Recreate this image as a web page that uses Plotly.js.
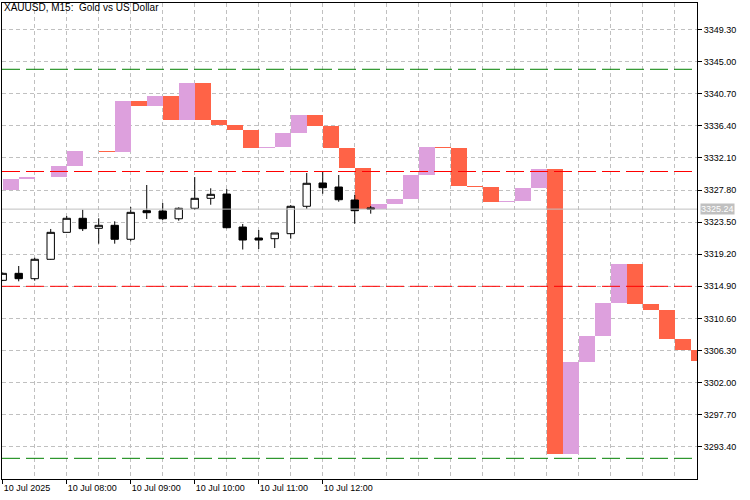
<!DOCTYPE html>
<html>
<head>
<meta charset="utf-8">
<script src="https://cdn.plot.ly/plotly-3.0.1.min.js"></script>
<style>
html,body{margin:0;padding:0;background:#ffffff;}
#chart{width:750px;height:500px;}
</style>
</head>
<body>
<div id="chart"></div>
<script>
// ---- data (M15 bars, 10 Jul 2025) ----
const times = ['07:00','07:15','07:30','07:45','08:00','08:15','08:30','08:45',
               '09:00','09:15','09:30','09:45','10:00','10:15','10:30','10:45',
               '11:00','11:15','11:30','11:45','12:00','12:15','12:30','12:45'];
const open  = [3315.70,3316.64,3315.92,3318.52,3322.13,3324.01,3322.67,3323.07,
               3321.20,3325.03,3324.99,3323.95,3325.35,3326.69,3327.26,3322.84,
               3321.37,3321.28,3321.95,3325.62,3328.74,3328.20,3326.46,3325.40];
const high  = [3316.75,3317.62,3318.73,3322.58,3324.32,3325.16,3324.01,3323.61,
               3325.52,3328.47,3326.06,3325.48,3329.54,3328.03,3327.93,3323.25,
               3322.44,3322.04,3325.79,3330.08,3330.21,3329.81,3327.13,3325.66];
const low   = [3315.60,3315.57,3315.65,3318.45,3322.10,3322.31,3320.61,3320.61,
               3320.93,3323.92,3323.78,3323.69,3325.12,3325.83,3322.67,3319.83,
               3319.90,3320.03,3321.28,3325.29,3327.30,3326.23,3323.29,3324.63];
const close = [3316.64,3315.92,3318.52,3322.13,3324.01,3322.62,3323.07,3321.20,
               3324.81,3324.76,3323.95,3325.35,3326.69,3327.22,3322.75,3321.10,
               3321.10,3322.04,3325.62,3328.70,3328.11,3326.50,3325.03,3325.24];

// indicator boxes: each box opens where the previous one closed
const boxStart = 3327.80;
const boxClose = [3329.27,3329.50,3329.50,3331.01,3333.02,3333.02,3332.85,3339.72,
                  3339.08,3340.39,3337.18,3342.13,3337.22,3336.55,3335.84,3333.47,
                  3333.60,3335.44,3337.85,3336.41,3333.47,3330.79,3325.21,3325.92,
                  3326.59,3329.81,3333.56,3333.43,3328.34,3328.20,3326.23,3326.37,
                  3328.07,3330.61,3292.47,3304.80,3308.24,3312.66,3317.89,3312.53,
                  3311.76,3307.84,3306.33,3304.89];

const yTicks = [3293.40,3297.70,3302.00,3306.30,3310.60,3314.90,3319.20,
                3323.50,3327.80,3332.10,3336.40,3340.70,3345.00,3349.30];
const xTickIdx = [0,4,8,12,16,20];
const xTickLabels = ['10 Jul 2025','10 Jul 08:00','10 Jul 09:00','10 Jul 10:00','10 Jul 11:00','10 Jul 12:00'];

const levels = [3343.97,3330.28,3314.90,3291.86];
const levelColors = ['#008000','#FF0000','#FF0000','#008000'];
const bidPrice = 3325.24;
const chartTitle = 'XAUUSD, M15:  Gold vs US Dollar';

// ---- build ----
const FONT = 'Liberation Sans, Arial, sans-serif';
const UP = '#DDA0DD', DOWN = '#FF6347';
const GRID = '#C0C0C0';

const idx = times.map((t,i)=>i);
const boxOpen = boxClose.map((c,i)=> i===0 ? boxStart : boxClose[i-1]);
const boxX = boxClose.map((c,i)=> i + 0.5);
const boxH = boxClose.map((c,i)=> c - boxOpen[i]);
const boxCol = boxClose.map((c,i)=> c >= boxOpen[i] ? UP : DOWN);

const traces = [
  {
    type:'bar', x: boxX, y: boxH, base: boxOpen, width: 1,
    marker:{color: boxCol, line:{width:0}},
    hoverinfo:'skip', showlegend:false
  },
  {
    type:'candlestick', x: idx, open: open, high: high, low: low, close: close,
    increasing:{fillcolor:'#FFFFFF', line:{color:'#000000', width:1}},
    decreasing:{fillcolor:'#000000', line:{color:'#000000', width:1}},
    whiskerwidth:0, hoverinfo:'skip', showlegend:false
  }
];

const shapes = levels.map((v,i)=>({
  type:'line', xref:'paper', x0:0, x1:1, yref:'y', y0:v, y1:v,
  line:{color: levelColors[i], width:1, dash:'18px,6px'}, layer:'above'
}));
shapes.push({
  type:'line', xref:'paper', x0:0, x1:1, yref:'y', y0:bidPrice, y1:bidPrice,
  line:{color:GRID, width:1}, layer:'above'
});

const layout = {
  width:750, height:500,
  margin:{l:2, r:53, t:3, b:21, pad:0},
  paper_bgcolor:'#FFFFFF', plot_bgcolor:'#FFFFFF',
  font:{family:FONT, size:9, color:'#000000'},
  showlegend:false, boxgap:0.34, bargap:0,
  title:{text: chartTitle, font:{family:FONT, size:10, color:'#000000'},
         xref:'container', x:4/750, xanchor:'left',
         yref:'container', y:1-4/500, yanchor:'top'},
  xaxis:{
    type:'linear', range:[-0.044, 43.39], fixedrange:true,
    tickmode:'array', tickvals: xTickIdx, ticktext: xTickLabels,
    ticks:'outside', ticklen:4, tickcolor:'#000000', tickwidth:1,
    ticklabelposition:'outside right',
    showline:true, linecolor:'#000000', linewidth:1, mirror:true,
    showgrid:true, gridcolor:GRID, gridwidth:1, griddash:'4px,3px',
    minor:{dtick:2, tick0:0, showgrid:true, gridcolor:GRID, gridwidth:1, griddash:'4px,3px', ticks:''},
    zeroline:false, rangeslider:{visible:false},
    tickfont:{family:FONT, size:9, color:'#000000'}
  },
  yaxis:{
    side:'right', range:[3289.09, 3352.85], fixedrange:true,
    tickmode:'array', tickvals: yTicks, ticktext: yTicks.map(v=>v.toFixed(2)),
    ticks:'outside', ticklen:4, tickcolor:'#000000', tickwidth:1,
    showline:true, linecolor:'#000000', linewidth:1, mirror:true,
    showgrid:true, gridcolor:GRID, gridwidth:1, griddash:'4px,3px',
    zeroline:false,
    tickfont:{family:FONT, size:9, color:'#000000'}
  },
  shapes: shapes,
  annotations:[{
    xref:'paper', x:1, xanchor:'left', xshift:3,
    yref:'y', y:bidPrice, yanchor:'middle',
    text: bidPrice.toFixed(2), showarrow:false,
    bgcolor:GRID, borderpad:0,
    font:{family:FONT, size:9, color:'#FFFFFF'}
  }]
};

Plotly.newPlot('chart', traces, layout, {staticPlot:true, displayModeBar:false});
</script>
</body>
</html>
